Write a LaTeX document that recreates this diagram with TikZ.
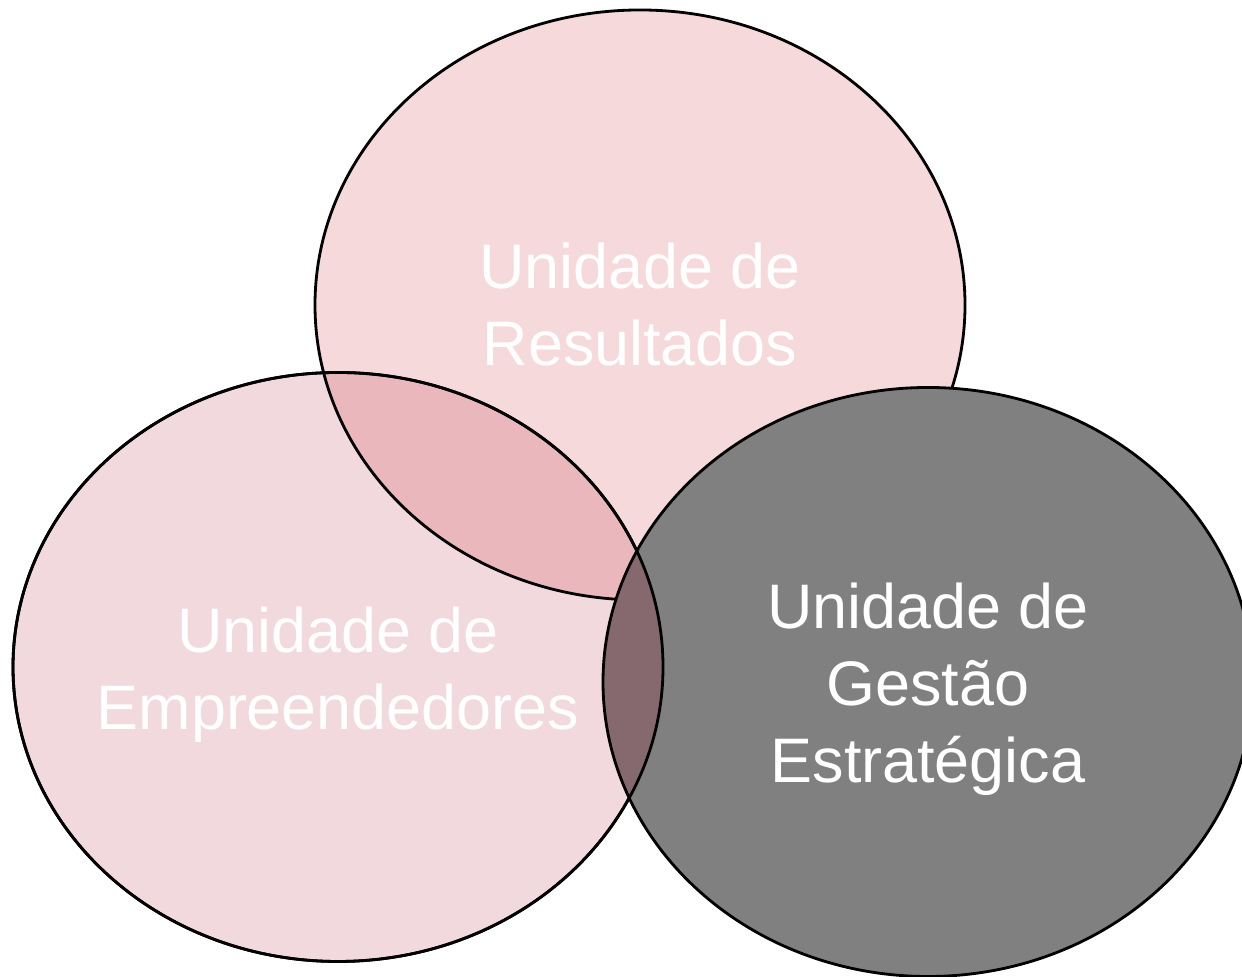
\documentclass[tikz,border=0pt]{standalone}
\usepackage{fontspec}
\setmainfont{Liberation Sans}
\usetikzlibrary{calc}

\definecolor{resfill}{HTML}{F6D9DB}
\definecolor{empfill}{HTML}{F2D9DE}
\definecolor{mixfill}{HTML}{EAB7BC}
\definecolor{gesfill}{HTML}{808080}
\definecolor{darkfill}{HTML}{86696E}

\tikzset{
  rim/.style={draw=black,line width=0.8pt},
  unitlabel/.style={text=white,align=center,font=\fontsize{17.9}{21.9}\selectfont}
}

\begin{document}
\begin{tikzpicture}
			\useasboundingbox (0,0) rectangle (12.42,9.77);
			\coordinate (r) at (6.40,6.72);
			\coordinate (e) at (3.38,3.10);
			\coordinate (g) at (9.28,2.95);
			
			% pink circles and their overlap
			\fill[resfill] (r) ellipse (3.25 and 2.95);
			\fill[empfill] (e) ellipse (3.25 and 2.945);
			\begin{scope}
				\clip (r) ellipse (3.25 and 2.95);
				\fill[mixfill] (e) ellipse (3.25 and 2.945);
			\end{scope}
			\draw[rim] (r) ellipse (3.25 and 2.95);
			\draw[rim] (e) ellipse (3.25 and 2.945);
			
			% grey circle on top
			\fill[gesfill] (g) ellipse (3.25 and 2.945);
			\begin{scope}
				\clip (g) ellipse (3.25 and 2.945);
				\fill[darkfill] (e) ellipse (3.25 and 2.945);
			\end{scope}
			\draw[rim] (e) ellipse (3.25 and 2.945);
			\draw[rim] (g) ellipse (3.25 and 2.945);
			
			\node[unitlabel] (res) at (r) {Unidade de\\Resultados};
			\node[unitlabel] (emp) at ($(e)+(0,-0.08)$) {Unidade de\\Empreendedores};
			\node[unitlabel] (ges) at ($(g)+(0,-0.07)$) {Unidade de\\Gestão\\Estratégica};
		\end{tikzpicture}
\end{document}
